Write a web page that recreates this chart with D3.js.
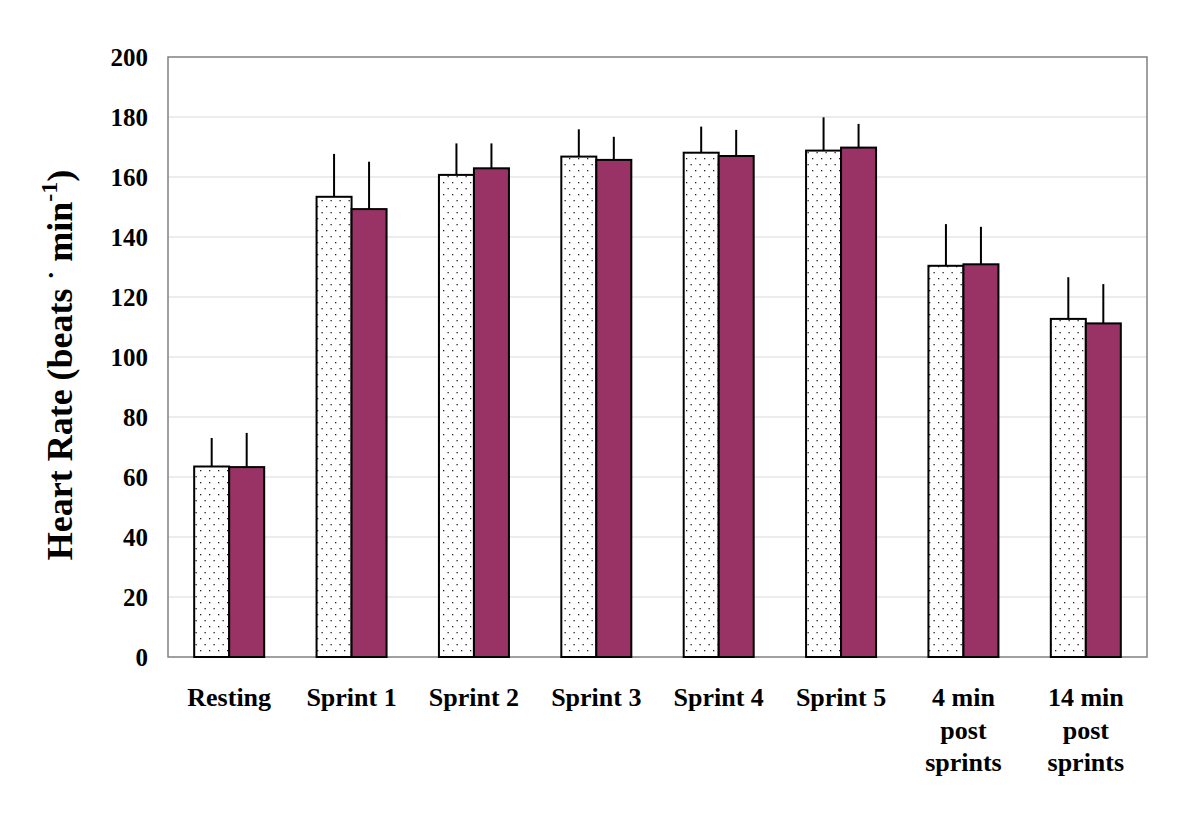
<!DOCTYPE html>
<html><head><meta charset="utf-8">
<script src="https://cdn.jsdelivr.net/npm/d3@7"></script>
<style>body{margin:0;background:#fff}svg{display:block}text{font-family:"Liberation Serif","Times New Roman",serif;font-weight:bold;fill:#000}</style>
</head><body>
<svg id="c" width="1200" height="820"></svg>
<script>
const categories = [["Resting"],["Sprint 1"],["Sprint 2"],["Sprint 3"],["Sprint 4"],["Sprint 5"],["4 min","post","sprints"],["14 min","post","sprints"]];
const seriesA = [63.5, 153.4, 160.7, 166.8, 168.1, 168.8, 130.4, 112.7];
const errorA  = [9.5, 14.3, 10.5, 9.1, 8.7, 11.1, 13.9, 13.9];
const seriesB = [63.3, 149.3, 162.9, 165.7, 167.0, 169.8, 130.9, 111.2];
const errorB  = [11.4, 15.8, 8.3, 7.7, 8.7, 7.9, 12.5, 13.1];
const yTicks = [0,20,40,60,80,100,120,140,160,180,200];

const svg = d3.select("#c");
const m = {l:168, r:1147, t:57, b:657};
const x = d3.scaleBand().domain(d3.range(categories.length)).range([m.l, m.r]).paddingInner(0).paddingOuter(0);
const y = d3.scaleLinear().domain([0,200]).range([m.b, m.t]);
const bw = 35;

const defs = svg.append("defs");
const pat = defs.append("pattern").attr("id","dots").attr("patternUnits","userSpaceOnUse")
  .attr("width",9).attr("height",12);
pat.append("rect").attr("width",9).attr("height",12).attr("fill","#fff");
pat.append("rect").attr("x",2).attr("y",2).attr("width",1.3).attr("height",1.3).attr("fill","#222");
pat.append("rect").attr("x",6.5).attr("y",8).attr("width",1.3).attr("height",1.3).attr("fill","#222");

// gridlines
svg.append("g").selectAll("line").data(yTicks.filter(d=>d>0 && d<200)).join("line")
  .attr("x1",m.l).attr("x2",m.r).attr("y1",d=>y(d)).attr("y2",d=>y(d))
  .attr("stroke","#d9d9d9").attr("stroke-width",1);

// frame
svg.append("rect").attr("x",m.l).attr("y",m.t).attr("width",m.r-m.l).attr("height",m.b-m.t)
  .attr("fill","none").attr("stroke","#808080").attr("stroke-width",1.5);

// y axis via d3 axis
const yAxis = svg.append("g").attr("transform",`translate(${m.l},0)`)
  .call(d3.axisLeft(y).tickValues(yTicks).tickSize(0).tickPadding(20));
yAxis.select(".domain").remove();
yAxis.selectAll("text").attr("font-size",25).attr("font-family",null).style("font-family",'"Liberation Serif",serif').style("font-weight","bold").attr("fill","#000");

// bars
const g = svg.append("g");
categories.forEach((c,i)=>{
  const cx = x(i) + x.bandwidth()/2;
  [[seriesA[i],errorA[i],cx-bw/2],[seriesB[i],errorB[i],cx+bw/2]].forEach(([v,e,ex])=>{
    g.append("line").attr("x1",ex).attr("x2",ex).attr("y1",y(v)).attr("y2",y(v+e))
      .attr("stroke","#000").attr("stroke-width",2);
  });
  g.append("rect").attr("x",cx-bw).attr("y",y(seriesA[i])).attr("width",bw).attr("height",y(0)-y(seriesA[i]))
    .attr("fill","url(#dots)").attr("stroke","#000").attr("stroke-width",2);
  g.append("rect").attr("x",cx).attr("y",y(seriesB[i])).attr("width",bw).attr("height",y(0)-y(seriesB[i]))
    .attr("fill","#993366").attr("stroke","#000").attr("stroke-width",2);
});

// x labels
const xl = svg.append("g");
categories.forEach((lines,i)=>{
  const cx = x(i) + x.bandwidth()/2;
  const t = xl.append("text").attr("text-anchor","middle").attr("font-size",26);
  lines.forEach((ln,j)=>{
    t.append("tspan").attr("x",cx).attr("y",706+j*32.5).text(ln);
  });
});

// y title
const yt = svg.append("text").attr("transform","translate(72,365) rotate(-90)")
  .attr("text-anchor","middle").attr("font-size",36);
yt.append("tspan").text("Heart Rate (beats ");
yt.append("tspan").attr("dy",-13).attr("font-size",26).text("·");
yt.append("tspan").attr("dy",13).text(" min");
yt.append("tspan").attr("dy",-15).attr("font-size",24).text("-1");
yt.append("tspan").attr("dy",15).text(")");
</script>
</body></html>
